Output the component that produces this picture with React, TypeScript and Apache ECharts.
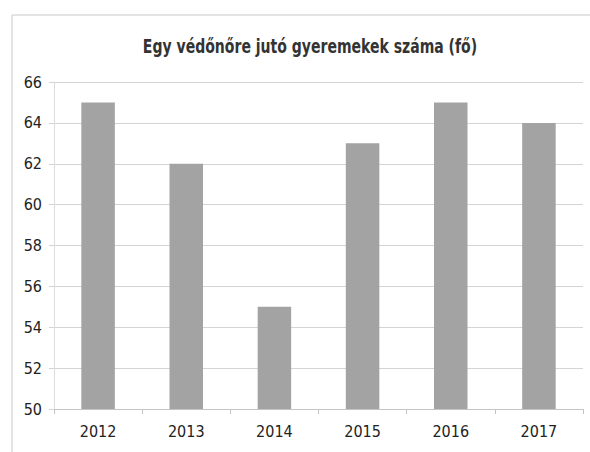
import React, { useEffect, useRef } from "react";
import * as echarts from "echarts";

const categories = ["2012", "2013", "2014", "2015", "2016", "2017"];
const values = [65, 62, 55, 63, 65, 64];
const titleText = "Egy védőnőre jutó gyeremekek száma (fő)";
const FONT = "'DejaVu Sans Condensed', 'DejaVu Sans', sans-serif";

export default function App() {
  const ref = useRef<HTMLDivElement>(null);
  useEffect(() => {
    if (!ref.current) return;
    const chart = echarts.init(ref.current, undefined, { renderer: "svg" });
    chart.setOption({
      animation: false,
      backgroundColor: "#ffffff",
      graphic: [
        {
          type: "line",
          shape: { x1: 12, y1: 15, x2: 590, y2: 15 },
          style: { stroke: "#c8c8c8", lineWidth: 1 },
        },
        {
          type: "line",
          shape: { x1: 12, y1: 15, x2: 12, y2: 452 },
          style: { stroke: "#c8c8c8", lineWidth: 1 },
        },
        {
          type: "text",
          x: 310,
          y: 46,
          scaleX: 0.78,
          style: {
            text: titleText,
            fontFamily: FONT,
            fontSize: 20,
            fontWeight: "bold",
            fill: "#333333",
            align: "center",
            verticalAlign: "middle",
          },
        },
      ],
      grid: { left: 54, right: 7, top: 82, bottom: 43 },
      xAxis: {
        type: "category",
        data: categories,
        axisLine: { show: true, lineStyle: { color: "#c4c4c4" } },
        axisTick: { show: true, alignWithLabel: false, length: 5, lineStyle: { color: "#c4c4c4" } },
        axisLabel: { fontFamily: FONT, fontSize: 16, color: "#222222", margin: 14 },
      },
      yAxis: {
        type: "value",
        min: 50,
        max: 66,
        interval: 2,
        axisLine: { show: true, lineStyle: { color: "#dcdcdc" } },
        axisTick: { show: true, length: 5, lineStyle: { color: "#d4d4d4" } },
        axisLabel: { fontFamily: FONT, fontSize: 16, color: "#222222", margin: 12 },
        splitLine: { lineStyle: { color: "#d4d4d4", width: 1 } },
      },
      series: [
        {
          type: "bar",
          data: values,
          barWidth: "38%",
          itemStyle: { color: "#a3a3a3" },
        },
      ],
    });
    return () => chart.dispose();
  }, []);
  return (
    <div
      ref={ref}
      style={{ position: "fixed", left: 0, top: 0, width: 590, height: 452 }}
    />
  );
}
